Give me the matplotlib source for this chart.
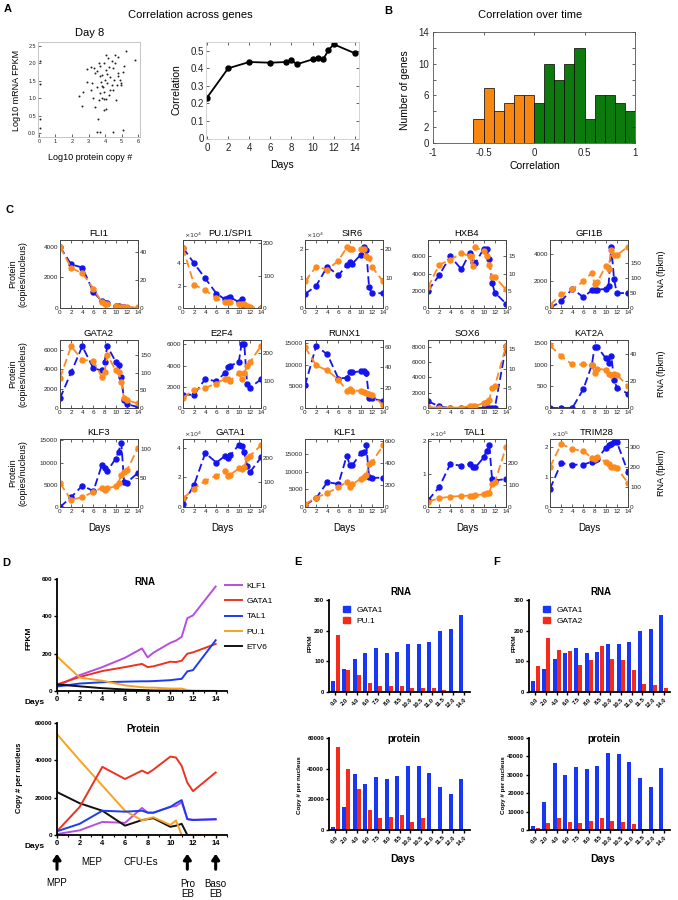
import numpy as np
import matplotlib
matplotlib.use("Agg")
import matplotlib.pyplot as plt
from matplotlib.lines import Line2D
from matplotlib.patches import Patch
from matplotlib.transforms import blended_transform_factory

plt.rcParams['font.family'] = ['Liberation Sans', 'DejaVu Sans']

# ---------------- data ----------------
days = [0, 2, 4, 6, 7.5, 8, 8.5, 10, 10.5, 11, 11.5, 12, 14]
day_labels = ['0.0', '2.0', '4.0', '6.0', '7.5', '8.0', '8.5', '10.0',
              '10.5', '11.0', '11.5', '12.0', '14.0']

# panel A, day 8 scatter (log10 protein copy #, log10 mRNA FPKM)
scatter_x = [0.06, 0.06, 0.06, 0.06, 5.82, 5.27, 5.1, 4.46, 3.5, 3.66, 2.44, 2.59,
             2.69, 2.93, 3.13, 3.19, 3.13, 3.29, 3.39, 3.54, 3.49, 3.6, 3.7, 3.66,
             3.74, 3.8, 3.86, 3.9, 3.94, 3.8, 3.7, 4.06, 4.06, 4.2, 4.06, 4.14,
             4.26, 4.3, 4.4, 4.5, 4.6, 4.55, 4.4, 4.3, 4.75, 4.8, 4.95, 5.07,
             5.15, 4.8, 4.6, 3.9, 4.06, 4.0, 3.39, 2.89, 3.33, 4.1, 4.26, 4.7,
             4.46, 3.5, 3.8, 4.9, 3.6, 3.94, 4.95, 4.67]
scatter_y = [2.08, 1.4, 0.4, 0.13, 2.1, 2.37, 0.09, 0.01, 0.01, 0.01, 1.06, 0.78,
             1.19, 1.83, 1.91, 1.43, 1.25, 1.0, 0.74, 0.39, 1.78, 2.0, 1.93, 1.64,
             1.48, 1.35, 1.31, 1.19, 0.97, 1.0, 1.16, 0.97, 2.24, 2.17, 1.81, 1.7,
             1.91, 1.6, 2.08, 1.86, 2.0, 1.52, 1.38, 1.25, 1.73, 1.64, 1.43, 1.76,
             1.93, 2.19, 2.24, 0.66, 0.68, 1.52, 1.72, 1.48, 1.87, 1.43, 1.09, 1.38,
             1.24, 1.31, 1.67, 1.52, 0.95, 2.0, 1.38, 0.95]

corr_by_day = [0.233, 0.40, 0.436, 0.432, 0.436, 0.446, 0.423, 0.451, 0.459,
               0.451, 0.503, 0.537, 0.486]

# panel B histogram
hist_edges = [-1.0, -0.9, -0.8, -0.7, -0.6, -0.5, -0.4, -0.3, -0.2, -0.1,
              0.0, 0.1, 0.2, 0.3, 0.4, 0.5, 0.6, 0.7, 0.8, 0.9]
hist_counts = [0, 0, 0, 0, 3, 7, 4, 5, 6, 6, 5, 10, 8, 10, 12, 3, 6, 6, 5, 4]

# panel C-F time courses (protein copies/nucleus, RNA fpkm)
fli1_prot = [4000, 2850, 2650, 1050, 450, 300, 300, 100, 100, 50, 50, 30, 0]
fli1_rna = [44, 29, 25, 14, 4, 3, 3, 1.5, 1, 1, 1, 0.5, 0.5]
pu1_prot = [54000, 40000, 26500, 13000, 7800, 8700, 9500, 5400, 7800, 0, 0, 0, 0]
pu1_rna = [185, 72, 55, 30, 20, 18, 18, 13, 13, 13, 5, 2, 1]
sir6_prot = [4700, 7500, 14000, 11000, 14500, 15500, 15000, 18000, 20500, 19500, 7000, 5000, 5000]
sir6_rna = [9, 14, 13, 16, 20.5, 20, 20, 20, 20, 17.5, 17, 14, 9]
hxb4_prot = [2000, 3800, 6000, 4500, 6400, 5400, 5200, 6900, 6800, 5700, 2900, 1800, 500]
hxb4_rna = [6, 12.6, 14, 16, 15, 12.3, 17.7, 16.5, 15, 12.6, 9.1, 9, 5.4]
gfi1b_prot = [0, 500, 1400, 800, 1300, 1350, 1350, 1400, 1600, 4500, 2100, 1100, 1100]
gfi1b_rna = [10, 45, 62, 88, 117, 80, 85, 140, 130, 193, 176, 175, 203]
gata2_prot = [1000, 3700, 6400, 4100, 3900, 4800, 6400, 4800, 4500, 3200, 800, 400, 100]
gata2_rna = [85, 175, 137, 133, 88, 103, 150, 107, 103, 73, 27, 22, 13]
e2f4_prot = [1250, 1250, 2750, 2500, 3300, 3900, 4000, 4300, 6000, 6000, 2300, 1900, 2700]
e2f4_rna = [37, 67, 74, 89, 107, 104, 100, 126, 107, 126, 155, 167, 226]
runx1_prot = [5200, 14300, 12400, 6800, 7000, 8200, 8200, 8500, 8500, 8000, 2300, 2200, 1600]
runx1_rna = [60, 42, 37, 28, 17, 19, 17, 17, 16, 14.5, 14, 13, 3]
sox6_prot = [900, 200, 0, 0, 0, 0, 0, 0, 0, 0, 0, 0, 8100]
sox6_rna = [0.2, 0.1, 0.1, 0.1, 0.5, 0.5, 0.5, 1.3, 1.5, 2, 5.2, 5.6, 15.8]
kat2a_prot = [0, 0, 0, 440, 990, 1400, 1410, 1150, 1050, 1200, 650, 470, 330]
kat2a_rna = [46, 38, 32, 32, 31.5, 26, 29, 28, 25, 24.5, 25, 24.5, 16]
klf3_prot = [0, 2200, 4800, 3600, 9400, 8800, 8100, 10900, 12400, 14500, 5700, 5500, 7700]
klf3_rna = [41, 12, 17, 26, 33, 30, 32, 36, 42, 55, 60, 63, 102]
gata1_prot = [2000, 15000, 36500, 30000, 34500, 33000, 35000, 42000, 41500, 37000, 28000, 23500, 33500]
gata1_rna = [35, 75, 107, 128, 145, 128, 132, 157, 155, 162, 200, 207, 252]
klf1_prot = [500, 2500, 7000, 6500, 14500, 12000, 11800, 15200, 15500, 17500, 8500, 8200, 8300]
klf1_rna = [25, 85, 128, 178, 228, 180, 205, 258, 270, 290, 390, 405, 560]
tal1_prot = [2000, 6000, 13000, 12500, 13000, 12000, 12000, 15000, 17000, 18700, 8500, 8000, 8500]
tal1_rna = [24, 40, 47, 50, 52, 52, 53, 58, 62, 65, 105, 112, 272]
trim28_prot = [60000, 145000, 140000, 140000, 150000, 155000, 160000, 195000, 205000, 210000, 215000, 215000, 115000]
trim28_rna = [200, 315, 290, 280, 245, 240, 250, 225, 215, 200, 200, 195, 120]
etv6_prot = [23000, 17000, 13000, 5000, 8000, 8500, 9000, 4400, 5000, 6000, 0, 0, 0]
etv6_rna = [35, 25, 15, 8, 5, 4, 3, 2, 2, 1, 0, 0, 0]

# ---------------- layout helpers ----------------
W, H = 678, 900
fig = plt.figure(figsize=(W / 100, H / 100), dpi=100)


def add_ax(left, top, width, height):
    return fig.add_axes([left / W, 1 - (top + height) / H, width / W, height / H])


def ftext(x, y, s, **kw):
    kw.setdefault('ha', 'center')
    kw.setdefault('va', 'center')
    fig.text(x / W, 1 - y / H, s, **kw)


def matlab_style(ax, fs, spine='#444444'):
    ax.tick_params(direction='in', length=2, width=0.5, labelsize=fs, pad=1.5,
                   colors='#222222')
    for s in ax.spines.values():
        s.set_linewidth(0.6)
        s.set_color(spine)


def prism_style(ax, fs=4.5):
    ax.spines['top'].set_visible(False)
    ax.spines['right'].set_visible(False)
    ax.spines['left'].set_linewidth(1.3)
    ax.spines['bottom'].set_linewidth(1.3)
    ax.tick_params(direction='out', length=2.5, width=1.0, labelsize=fs, pad=1)
    ax.tick_params(which='minor', direction='out', length=1.6, width=0.8)


def bold_ticks(ax):
    for lbl in ax.get_xticklabels() + ax.get_yticklabels():
        lbl.set_fontweight('bold')


BLUE_C = '#1414f0'
ORANGE_C = '#ff8a1c'

# ---------------- panel A ----------------
ftext(8, 9, 'A', fontsize=8, fontweight='bold')
ftext(190, 15, 'Correlation across genes', fontsize=8)

ax = add_ax(38, 42, 102, 95)
ax.scatter(scatter_x, scatter_y, s=2, color='#222222', lw=0)
ax.set_xlim(-0.05, 6.1)
ax.set_ylim(-0.12, 2.62)
ax.set_xticks(range(7))
ax.set_yticks([0, 0.5, 1.0, 1.5, 2.0, 2.5])
ax.set_yticklabels(['0.0', '0.5', '1.0', '1.5', '2.0', '2.5'])
matlab_style(ax, 4, spine='#bbbbbb')
ftext(90, 33, 'Day 8', fontsize=8)
ftext(17, 90, 'Log10 mRNA FPKM', fontsize=6.5, rotation=90)
ftext(90, 158, 'Log10 protein copy #', fontsize=6.5)

ax = add_ax(206, 42, 153, 96.5)
ax.plot(days, corr_by_day, '-o', color='black', lw=1.3, ms=3.6)
ax.set_xlim(-0.1, 14.4)
ax.set_ylim(0, 0.55)
ax.set_xticks(range(0, 15, 2))
ax.set_yticks([0, 0.1, 0.2, 0.3, 0.4, 0.5])
ax.set_yticklabels(['0', '0.1', '0.2', '0.3', '0.4', '0.5'])
matlab_style(ax, 7, spine='#cccccc')
ax.tick_params(top=True, right=True)
ax.tick_params(axis='x', pad=3)
ftext(177, 90, 'Correlation', fontsize=7.5, rotation=90)
ftext(282, 165, 'Days', fontsize=7.5)

# ---------------- panel B ----------------
ftext(388, 11, 'B', fontsize=8, fontweight='bold')
ftext(530, 15, 'Correlation over time', fontsize=8)
ax = add_ax(433, 32, 202, 111)
bar_colors = ['#f7870f' if e < 0 else '#0c7a0c' for e in hist_edges]
ax.bar(hist_edges, hist_counts, width=0.1, align='edge', color=bar_colors,
       edgecolor='black', lw=0.5)
ax.set_xlim(-1, 1)
ax.set_ylim(0, 14)
ax.set_xticks([-1, -0.5, 0, 0.5, 1])
ax.set_xticklabels(['-1', '-0.5', '0', '0.5', '1'])
ax.set_yticks(range(0, 15, 2))
ax.set_yticklabels(['0', '2', '', '6', '', '10', '', '14'])
matlab_style(ax, 7, spine='#555555')
ax.tick_params(top=True, right=True)
ax.tick_params(axis='x', pad=3.5)
ax.tick_params(axis='y', pad=3)
ftext(405, 90, 'Number of genes', fontsize=7.5, rotation=90)
ftext(535, 166, 'Correlation', fontsize=7.5)

# ---------------- panel C ----------------
ftext(9, 210, 'C', fontsize=8, fontweight='bold')
genes = [
    ('FLI1', fli1_prot, fli1_rna, 1, (0, 4450), [0, 2000, 4000], (0, 49), [0, 20, 40]),
    ('PU.1/SPI1', pu1_prot, pu1_rna, 1e4, (0, 6.1), [0, 2, 4], (0, 210), [0, 100, 200]),
    ('SIR6', sir6_prot, sir6_rna, 1e4, (0, 2.3), [0, 1, 2], (0, 23), [0, 10, 20]),
    ('HXB4', hxb4_prot, hxb4_rna, 1, (0, 7900), [0, 2000, 4000, 6000], (0, 19.8), [0, 5, 10, 15]),
    ('GFI1B', gfi1b_prot, gfi1b_rna, 1, (0, 5000), [0, 2000, 4000], (0, 225), [0, 50, 100, 150]),
    ('GATA2', gata2_prot, gata2_rna, 1, (0, 7050), [0, 2000, 4000, 6000], (0, 193), [0, 50, 100, 150]),
    ('E2F4', e2f4_prot, e2f4_rna, 1, (0, 6400), [0, 2000, 4000, 6000], (0, 248), [0, 100, 200]),
    ('RUNX1', runx1_prot, runx1_rna, 1, (0, 15700), [0, 5000, 10000, 15000], (0, 67), [0, 20, 40, 60]),
    ('SOX6', sox6_prot, sox6_rna, 1, (0, 8900), [0, 2000, 4000, 6000, 8000], (0, 17.4), [0, 5, 10, 15]),
    ('KAT2A', kat2a_prot, kat2a_rna, 1, (0, 1570), [0, 500, 1000, 1500], (0, 50), [0, 20, 40]),
    ('KLF3', klf3_prot, klf3_rna, 1, (0, 15300), [0, 5000, 10000, 15000], (0, 117), [0, 50, 100]),
    ('GATA1', gata1_prot, gata1_rna, 1e4, (0, 4.6), [0, 2, 4], (0, 277), [0, 100, 200]),
    ('KLF1', klf1_prot, klf1_rna, 1, (0, 19200), [0, 5000, 10000, 15000], (0, 618), [0, 200, 400, 600]),
    ('TAL1', tal1_prot, tal1_rna, 1e4, (0, 2.06), [0, 1, 2], (0, 309), [0, 100, 200]),
    ('TRIM28', trim28_prot, trim28_rna, 1e5, (0, 2.25), [0, 1, 2], (0, 340), [0, 100, 200, 300]),
]
col_left = [60, 183, 305, 428, 550]
row_top = [240, 340, 439]
cw, ch = 78, 68
dash = (0, (4.5, 2.2))
for i, (name, prot, rna, scale, pyl, pyt, ryl, ryt) in enumerate(genes):
    r, c = divmod(i, 5)
    ax = add_ax(col_left[c], row_top[r], cw, ch)
    ax.plot(days, np.array(prot) / scale, ls=dash, color=BLUE_C, lw=1.3,
            marker='o', ms=3.6)
    ax.set_xlim(0, 14)
    ax.set_ylim(*pyl)
    ax.set_yticks(pyt)
    ax.set_xticks(range(0, 15, 2))
    matlab_style(ax, 4.6)
    ax2 = ax.twinx()
    ax2.plot(days, rna, ls=dash, color=ORANGE_C, lw=1.3, marker='o', ms=3.6)
    ax2.set_ylim(*ryl)
    ax2.set_yticks(ryt)
    matlab_style(ax2, 4.6)
    ax.tick_params(top=True)
    x0 = col_left[c] + cw / 2
    if scale != 1:
        exp = int(round(np.log10(scale)))
        ftext(col_left[c] + 1, row_top[r] - 5, r'$\times10^{%d}$' % exp,
              fontsize=4.6, ha='left', color='#333333')
        ftext(x0 + 8, row_top[r] - 6, name, fontsize=6.8)
    else:
        ftext(x0, row_top[r] - 6, name, fontsize=6.8)
    if r == 2:
        ftext(x0, 528, 'Days', fontsize=7)
for t in row_top:
    ftext(18, t + ch / 2, 'Protein\n(copies/nucleus)', fontsize=6.5, rotation=90,
          linespacing=1.1)
    ftext(661, t + ch / 2, 'RNA (fpkm)', fontsize=6.5, rotation=90)

# ---------------- panel D ----------------
ftext(6, 563, 'D', fontsize=8, fontweight='bold')
d_series = [('KLF1', klf1_rna, klf1_prot, '#b44fe0'),
            ('GATA1', gata1_rna, gata1_prot, '#ec3320'),
            ('TAL1', tal1_rna, tal1_prot, '#1c3cf2'),
            ('PU.1', pu1_rna, pu1_prot, '#f6a323'),
            ('ETV6', etv6_rna, etv6_prot, '#111111')]

ax_r = add_ax(57, 579, 170, 112)
ax_p = add_ax(57, 723, 170, 112)
for name, rna, prot, col in d_series:
    ax_r.plot(days, rna, color=col, lw=1.4, label=name)
for name, rna, prot, col in [d_series[i] for i in (0, 4, 3, 1, 2)]:
    ax_p.plot(days, prot, color=col, lw=1.4)
for ax, yl, yt in [(ax_r, 600, [0, 200, 400, 600]),
                   (ax_p, 60000, [0, 20000, 40000, 60000])]:
    ax.set_xlim(0, 15)
    ax.set_ylim(0, yl)
    ax.set_yticks(yt)
    ax.set_xticks(range(0, 15, 2))
    ax.set_xticks(range(0, 16), minor=True)
    prism_style(ax, 4.6)
    ax.tick_params(axis='x', labelsize=5.5)
    bold_ticks(ax)
ftext(35, 702, 'Days', fontsize=6, fontweight='bold')
ftext(35, 846, 'Days', fontsize=6, fontweight='bold')
ftext(145, 582, 'RNA', fontsize=7, fontweight='bold')
ftext(143, 729, 'Protein', fontsize=7, fontweight='bold')
ftext(29, 638, 'FPKM', fontsize=6, fontweight='bold', rotation=90)
ftext(20, 778, 'Copy # per nucleus', fontsize=5.5, fontweight='bold', rotation=90)
fig.legend(handles=[Line2D([], [], color=s[3], lw=1.4) for s in d_series],
           labels=[s[0] for s in d_series], loc='upper left',
           bbox_to_anchor=(225 / W, 1 - 582 / H), frameon=False, fontsize=6,
           handlelength=2.0, labelspacing=0.9, handletextpad=0.6,
           borderaxespad=0, borderpad=0)

arrow_days = [0, 11.5, 14]
stage_labels = ['MPP', 'MEP', 'CFU-Es', 'Pro\nEB', 'Baso\nEB']
stage_days = [0, 3.1, 7.4, 11.5, 14]
stage_y = [883, 862, 862, 889, 889]
trans = blended_transform_factory(ax_p.transData, fig.transFigure)
for d in arrow_days:
    ax_p.annotate('', xy=(d, 1 - 851 / H), xytext=(d, 1 - 872 / H),
                  xycoords=trans, textcoords=trans, annotation_clip=False,
                  arrowprops=dict(arrowstyle='-|>,head_width=0.22,head_length=0.32',
                                  lw=2.2, color='black'))
for s, d, y in zip(stage_labels, stage_days, stage_y):
    ax_p.text(d, 1 - y / H, s, transform=trans, ha='center', va='center',
              fontsize=7, linespacing=1.05)

# ---------------- panels E and F ----------------
BLUE_B = '#1736f5'
RED_B = '#f52a18'
xpos = np.arange(len(days))
bar_panels = [
    (329, 'E', 298, gata1_rna, pu1_rna, gata1_prot, pu1_prot, 'PU.1',
     60000, [0, 20000, 40000, 60000], 299),
    (529, 'F', 497, gata1_rna, gata2_rna, gata1_prot, gata2_prot, 'GATA2',
     50000, [0, 10000, 20000, 30000, 40000, 50000], 503),
]
for left, letter, lx, rb, rr, pb, pr, rname, pmax, pticks, ylx in bar_panels:
    ftext(lx, 562, letter, fontsize=8, fontweight='bold')
    ax_r = add_ax(left, 600, 141, 92)
    ax_p = add_ax(left, 738, 141, 92)
    for ax, b, rd in [(ax_r, rb, rr), (ax_p, pb, pr)]:
        ax.bar(xpos - 0.2, b, width=0.38, color=BLUE_B)
        ax.bar(xpos + 0.2, rd, width=0.38, color=RED_B)
        ax.set_xlim(-0.6, 12.6)
        ax.set_xticks(xpos)
        ax.set_xticklabels(day_labels, rotation=45, ha='right',
                           rotation_mode='anchor')
        prism_style(ax, 4.2)
        bold_ticks(ax)
    ax_r.set_ylim(0, 300)
    ax_r.set_yticks([0, 100, 200, 300])
    ax_p.set_ylim(0, pmax)
    ax_p.set_yticks(pticks)
    cx = left + 72
    ftext(cx, 592, 'RNA', fontsize=7, fontweight='bold')
    ftext(cx + 3, 739, 'protein', fontsize=7, fontweight='bold')
    ftext(cx + 2, 859, 'Days', fontsize=7.5, fontweight='bold')
    ftext(ylx + 11, 643, 'FPKM', fontsize=4.5, fontweight='bold', rotation=90)
    ftext(ylx, 785, 'Copy # per nucleus', fontsize=4.5, fontweight='bold',
          rotation=90)
    ax_r.legend(handles=[Patch(color=BLUE_B), Patch(color=RED_B)],
                labels=['GATA1', rname], loc='upper left',
                bbox_to_anchor=(14 / 141, 1 - 6 / 92),
                frameon=False, fontsize=6, handlelength=0.8, handleheight=0.8,
                labelspacing=0.35, handletextpad=0.8, borderaxespad=0,
                borderpad=0)

fig.savefig('out.png', dpi=100)
